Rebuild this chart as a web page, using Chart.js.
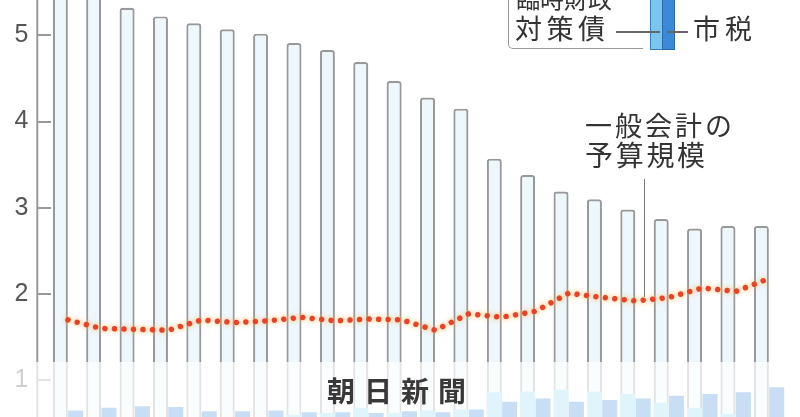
<!DOCTYPE html>
<html>
<head>
<meta charset="utf-8">
<script src="https://cdn.jsdelivr.net/npm/chart.js@4.4.0/dist/chart.umd.min.js"></script>
<style>
  html, body { margin: 0; padding: 0; overflow: hidden; background: #fff; }
  #wrap { position: relative; width: 800px; height: 480px; }
  .t { position: absolute; font-family: "Noto Sans CJK JP", sans-serif; color: #333; white-space: nowrap; line-height: 1; z-index: 3; }
  .ln { position: absolute; background: #666; z-index: 3; }
  #fade { position: absolute; left: 0; top: 362px; width: 800px; height: 120px; background: rgba(255,255,255,0.72); z-index: 2; }
</style>
</head>
<body>
<div id="wrap">
  <canvas id="chart"></canvas>

  <!-- legend box (cut at the top) -->
  <div style="position:absolute;left:508px;top:-20px;width:134px;height:68px;border-left:1.5px solid #999;border-bottom:1.5px solid #999;border-bottom-left-radius:5px;z-index:3"></div>
  <div class="t" style="left:516px;top:-14px;font-size:24px">臨時財政</div>
  <div class="t" style="left:515px;top:14px;font-size:27px;letter-spacing:4.5px">対策債</div>
  <div style="position:absolute;left:650px;top:-5px;width:11px;height:53px;background:#79c6ef;border:1px solid #3a7fc0;z-index:3"></div>
  <div style="position:absolute;left:662px;top:-5px;width:11px;height:53px;background:#3a8ad8;border:1px solid #2a6aa8;z-index:3"></div>
  <div class="ln" style="left:616px;top:31px;width:44px;height:1.5px"></div>
  <div class="ln" style="left:667px;top:31px;width:21px;height:1.5px"></div>
  <div class="t" style="left:693px;top:14px;font-size:27px;letter-spacing:5px">市税</div>

  <!-- line annotation -->
  <div class="t" style="left:585px;top:111px;font-size:27px;letter-spacing:3px">一般会計の</div>
  <div class="t" style="left:585px;top:140px;font-size:28px;letter-spacing:2.7px">予算規模</div>
  <div class="ln" style="left:644px;top:179px;width:1.2px;height:118px;background:#777"></div>

  <div id="fade"></div>
  <div class="t" style="left:327px;top:376px;font-size:28px;font-weight:bold;letter-spacing:9px;color:#383838">朝日新聞</div>
</div>

<script>
// データ(図から読み取った推定値)
const categories = ['1', '2', '3', '4', '5', '6', '7', '8', '9', '10', '11',
  '12', '13', '14', '15', '16', '17', '18', '19', '20', '21', '22'];
const totalBars = [5.5, 5.45, 5.32, 5.22, 5.14, 5.07, 5.02, 4.91, 4.83, 4.69, 4.47,
  4.28, 4.15, 3.57, 3.38, 3.19, 3.10, 2.98, 2.87, 2.76, 2.79, 2.79];
const rinzaiBars = [0, 0, 0, 0, 0, 0, 0, 0.6, 0.62, 0.68, 0.62,
  0.65, 0.66, 0.86, 0.87, 0.89, 0.87, 0.84, 0.74, 0.68, 0.61, 0.5];
const shizeiBars = [0.65, 0.68, 0.70, 0.69, 0.64, 0.64, 0.65, 0.63, 0.63, 0.62, 0.64,
  0.63, 0.66, 0.75, 0.79, 0.75, 0.77, 0.79, 0.82, 0.84, 0.86, 0.92];
const budgetLine = [1.70, 1.60, 1.59, 1.58, 1.70, 1.67, 1.69, 1.73, 1.69, 1.71, 1.70,
  1.58, 1.77, 1.73, 1.80, 2.01, 1.96, 1.92, 1.96, 2.07, 2.03, 2.18];
const yTicks = [0, 1, 2, 3, 4, 5];

// 縦軸の線(目盛りの左端)
const axisLine = {
  id: 'axisLine',
  beforeDatasetsDraw(chart) {
    const { ctx, chartArea } = chart;
    const x = chart.scales.y.right - 14;
    ctx.save();
    ctx.strokeStyle = '#999';
    ctx.lineWidth = 2;
    ctx.beginPath();
    ctx.moveTo(x, 0);
    ctx.lineTo(x, chartArea.bottom);
    ctx.stroke();
    ctx.restore();
  },
};

// 折れ線の点にうっすら光彩
const glow = {
  id: 'glow',
  beforeDatasetDraw(chart, args) {
    if (args.meta.type === 'line') {
      chart.ctx.save();
      chart.ctx.shadowColor = 'rgba(255,175,70,0.95)';
      chart.ctx.shadowBlur = 5;
    }
  },
  afterDatasetDraw(chart, args) {
    if (args.meta.type === 'line') chart.ctx.restore();
  },
};

const ctx = document.getElementById('chart').getContext('2d');
new Chart(ctx, {
  data: {
    labels: categories,
    datasets: [
      {
        type: 'line',
        label: '一般会計の予算規模',
        data: budgetLine,
        borderColor: '#e8432a',
        borderWidth: 5.5,
        borderDash: [0.01, 9.5],
        borderCapStyle: 'round',
        pointRadius: 0,
        tension: 0,
        order: 0,
      },
      {
        type: 'bar',
        label: '臨時財政対策債',
        data: rinzaiBars,
        backgroundColor: '#90dbf1',
        borderWidth: 0,
        stack: 'a',
        order: 1,
      },
      {
        type: 'bar',
        label: '残高',
        data: totalBars,
        backgroundColor: '#eef7fc',
        borderColor: '#999',
        borderWidth: 2.2,
        borderRadius: { topLeft: 3, topRight: 3 },
        borderSkipped: 'bottom',
        stack: 'a',
        order: 2,
      },
      {
        type: 'bar',
        label: '市税',
        data: shizeiBars,
        backgroundColor: '#3b89db',
        borderWidth: 0,
        stack: 'b',
        order: 2,
      },
    ],
  },
  options: {
    responsive: true,
    maintainAspectRatio: false,
    animation: false,
    datasets: {
      bar: { categoryPercentage: 0.92, barPercentage: 0.98 },
    },
    layout: { padding: { left: 0, right: 14.3, top: 0, bottom: 13.5 } },
    plugins: { legend: { display: false }, tooltip: { enabled: false } },
    scales: {
      x: { display: false, stacked: true },
      y: {
        stacked: false,
        min: 0,
        max: 5.41,
        afterBuildTicks: (scale) => { scale.ticks = yTicks.map((v) => ({ value: v })); },
        afterFit: (scale) => { scale.width = 51.3; scale.paddingTop = 0; scale.paddingBottom = 0; },
        border: { display: false },
        grid: { drawOnChartArea: false, drawTicks: true, tickLength: 14, color: '#999', lineWidth: 2 },
        ticks: {
          padding: 9,
          color: '#555',
          font: { family: 'Liberation Sans', size: 25 },
          callback: (v) => (v === 0 ? '' : v),
        },
      },
    },
  },
  plugins: [axisLine, glow],
});
</script>
</body>
</html>
